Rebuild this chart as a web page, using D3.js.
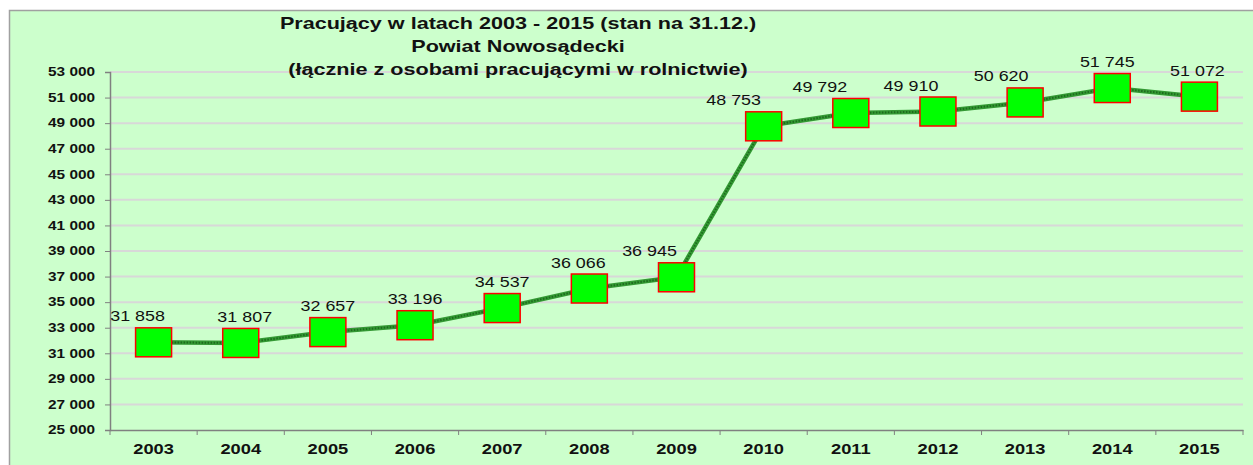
<!DOCTYPE html>
<html>
<head>
<meta charset="utf-8">
<script src="https://cdn.jsdelivr.net/npm/d3@7"></script>
<style>
  body { margin: 0; background: #fff; }
  svg { display: block; font-family: Arial, "Liberation Sans", sans-serif; }
</style>
</head>
<body>
<div id="chart"></div>
<script>
// data
let years = ['2003','2004','2005','2006','2007','2008','2009','2010','2011','2012','2013','2014','2015'];
let workers = [31858, 31807, 32657, 33196, 34537, 36066, 36945, 48753, 49792, 49910, 50620, 51745, 51072];
let yTicks = [25000, 27000, 29000, 31000, 33000, 35000, 37000, 39000, 41000, 43000, 45000, 47000, 49000, 51000, 53000];
let titleLines = ['Pracujący w latach 2003 - 2015 (stan na 31.12.)', 'Powiat Nowosądecki', '(łącznie z osobami pracującymi w rolnictwie)'];
// horizontal nudge of the value labels (they were moved by hand in the original)
let labelShift = [-16, 4, 0, 0, 0, -11, -27, -30, -31, -27, -24, -5, -2];

let width = 1253;
let height = 465;
let plotLeft = 110, plotRight = 1243, plotTop = 72, plotBottom = 430;
let stretch = 1.28; // the original picture is widened, text included

let svg = d3.select('#chart')
    .append('svg')
        .attr('width', width)
        .attr('height', height);

// background panel
svg.append('rect')
    .attr('x', 9.5).attr('y', 10.5)
    .attr('width', width).attr('height', height)
    .attr('fill', '#ccffcc')
    .attr('stroke', '#a0a0a0')
    .attr('stroke-width', 1.5);

let x = d3.scaleBand().domain(years).range([plotLeft, plotRight]);
let y = d3.scaleLinear().domain([25000, 53000]).range([plotBottom, plotTop]);

let fmt = (v) => d3.format(',')(v).replace(/,/g, ' ');

// gridlines
svg.append('g')
    .selectAll('line')
    .data(yTicks.slice(1))
    .enter().append('line')
        .attr('x1', plotLeft).attr('x2', plotRight)
        .attr('y1', (d) => y(d)).attr('y2', (d) => y(d))
        .attr('stroke', '#d8d8d8')
        .attr('stroke-width', 2);

// y axis
let yAxis = svg.append('g')
    .attr('transform', 'translate(' + plotLeft + ',0)')
    .call(d3.axisLeft(y).tickValues(yTicks).tickFormat(fmt).tickSize(5).tickPadding(10));
yAxis.selectAll('text')
    .attr('x', -15 / stretch)
    .attr('transform', 'scale(' + stretch + ',1)')
    .attr('font-size', 12).attr('font-weight', 'bold').attr('fill', '#111')
    .attr('font-family', 'Arial, "Liberation Sans", sans-serif');

// x axis with ticks on band edges
let xAxis = svg.append('g')
    .attr('transform', 'translate(0,' + plotBottom + ')')
    .call(d3.axisBottom(x).tickSize(0).tickPadding(13));
xAxis.selectAll('text')
    .attr('transform', 'scale(1.22,1)')
    .attr('font-size', 15).attr('font-weight', 'bold').attr('fill', '#111')
    .attr('font-family', 'Arial, "Liberation Sans", sans-serif');
xAxis.selectAll('.edge')
    .data(years.concat(['end']))
    .enter().append('line')
        .attr('class', 'edge')
        .attr('x1', (d, i) => plotLeft + i * x.bandwidth())
        .attr('x2', (d, i) => plotLeft + i * x.bandwidth())
        .attr('y1', 0).attr('y2', 5)
        .attr('stroke', '#808080');

svg.selectAll('.domain').attr('stroke', '#808080').attr('stroke-width', 1.5);
svg.selectAll('.tick line').attr('stroke', '#808080');

// line
let line = d3.line()
    .x((d, i) => x(years[i]) + x.bandwidth() / 2)
    .y((d) => y(d));

svg.append('path')
    .datum(workers)
    .attr('d', line)
    .attr('fill', 'none')
    .attr('stroke', '#339933')
    .attr('stroke-width', 4.5);
svg.append('path')
    .datum(workers)
    .attr('d', line)
    .attr('fill', 'none')
    .attr('stroke', '#1d6b1d')
    .attr('stroke-width', 2)
    .attr('stroke-dasharray', '1.5,1.5');

// markers
svg.selectAll('.marker')
    .data(workers)
    .enter().append('rect')
        .attr('class', 'marker')
        .attr('x', (d, i) => x(years[i]) + x.bandwidth() / 2 - 18)
        .attr('y', (d) => y(d) - 14.5)
        .attr('width', 36)
        .attr('height', 29)
        .attr('fill', '#00ff00')
        .attr('stroke', '#ff0000')
        .attr('stroke-width', 1.5);

// value labels
svg.selectAll('.val')
    .data(workers)
    .enter().append('text')
        .attr('class', 'val')
        .attr('transform', (d, i) => 'translate(' + (x(years[i]) + x.bandwidth() / 2 + labelShift[i]) + ',' + (y(d) - 21) + ') scale(' + stretch + ',1)')
        .attr('text-anchor', 'middle')
        .attr('font-size', 14)
        .attr('fill', '#111')
        .text(fmt);

// title
svg.append('g')
    .selectAll('text')
    .data(titleLines)
    .enter().append('text')
        .attr('transform', (d, i) => 'translate(518,' + (29 + i * 23) + ') scale(1.27,1)')
        .attr('text-anchor', 'middle')
        .attr('font-size', 17)
        .attr('font-weight', 'bold')
        .attr('fill', '#111')
        .text((d) => d);
</script>
</body>
</html>
